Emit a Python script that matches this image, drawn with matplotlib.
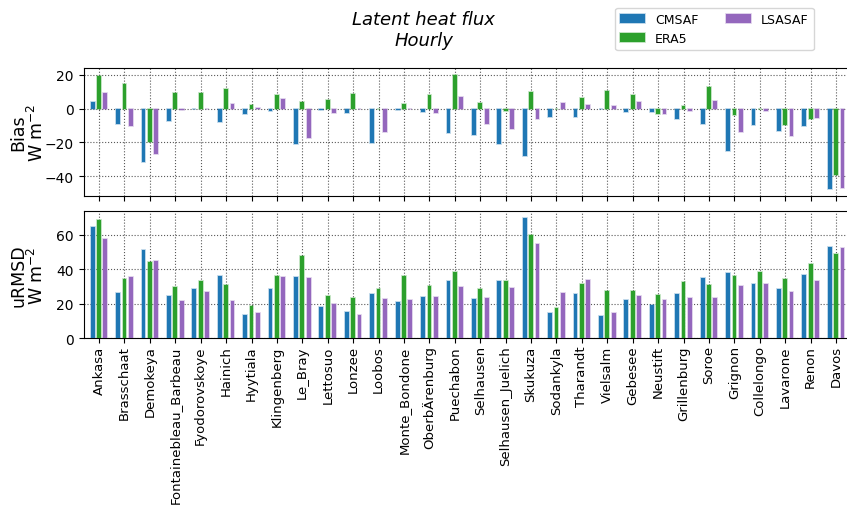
import matplotlib
matplotlib.use("Agg")
import matplotlib.pyplot as plt
from matplotlib.colors import to_rgba
import numpy as np

sites = ['Ankasa', 'Brasschaat', 'Demokeya', 'Fontainebleau_Barbeau', 'Fyodorovskoye',
         'Hainich', 'Hyytiala', 'Klingenberg', 'Le_Bray', 'Lettosuo', 'Lonzee', 'Loobos',
         'Monte_Bondone', 'OberbÄrenburg', 'Puechabon', 'Selhausen', 'Selhausen_Juelich',
         'Skukuza', 'Sodankyla', 'Tharandt', 'Vielsalm', 'Gebesee', 'Neustift',
         'Grillenburg', 'Soroe', 'Grignon', 'Collelongo', 'Lavarone', 'Renon', 'Davos']

# bias (W m-2)
bias_cmsaf = [3.8, -8.9, -31.7, -7.5, -0.3, -7.9, -3.2, -1.6, -21.0, -1.0, -2.8, -20.6,
              -1.0, -1.8, -14.1, -15.6, -21.0, -28.1, -4.8, -5.0, -0.3, -2.0, -2.0, -5.9,
              -9.3, -24.8, -9.7, -13.1, -10.3, -47.3]
bias_era5 = [19.2, 14.9, -19.6, 9.3, 9.3, 11.5, 2.4, 7.9, 4.2, 5.1, 8.9, -0.3,
             3.0, 8.3, 20.2, 3.4, -1.6, 9.9, -0.3, 6.5, 10.5, 8.3, -3.2, 1.6,
             12.7, -3.6, -0.3, -9.9, -6.3, -39.4]
bias_lsasaf = [9.3, -10.5, -27.1, -1.0, -0.3, 2.8, 0.3, 5.9, -17.6, -2.4, -0.3, -13.9,
               -0.3, -2.6, 7.1, -9.3, -11.9, -6.3, 3.6, 2.4, 1.8, 4.0, -3.4, -1.6,
               4.6, -13.7, -1.6, -16.4, -5.5, -46.7]

# unbiased RMSD (W m-2)
urmsd_cmsaf = [64.2, 26.5, 51.0, 24.4, 28.7, 36.2, 13.7, 28.7, 35.6, 18.3, 15.0, 25.8,
               21.0, 23.7, 33.3, 22.5, 33.1, 69.6, 14.8, 25.4, 12.7, 22.3, 19.4, 25.4,
               34.8, 37.7, 31.2, 28.3, 36.9, 52.9]
urmsd_era5 = [68.7, 34.2, 44.0, 29.4, 32.9, 31.0, 18.8, 35.8, 47.7, 24.6, 23.5, 28.3,
              36.0, 30.4, 38.1, 28.7, 33.3, 59.6, 17.5, 31.3, 27.5, 27.5, 25.0, 32.5,
              31.0, 36.2, 38.3, 34.2, 42.7, 48.5]
urmsd_lsasaf = [57.7, 35.2, 44.8, 21.3, 26.9, 21.3, 14.4, 35.4, 34.6, 20.0, 13.5, 22.9,
                22.3, 24.0, 29.4, 23.5, 29.2, 54.4, 26.5, 34.0, 14.6, 24.6, 22.3, 23.5,
                23.5, 30.4, 31.2, 26.7, 33.1, 52.5]

products = ['CMSAF', 'ERA5', 'LSASAF']
colors = ['tab:blue', 'tab:green', 'tab:purple']

fig = plt.figure(figsize=(8.47, 5.06), dpi=100)
ax1 = fig.add_axes([0.0986, 0.6113, 0.905, 0.253])
ax2 = fig.add_axes([0.0986, 0.3294, 0.905, 0.2522])

x = np.arange(len(sites))
w = 0.15
offs = [-0.25, 0, 0.25]

for ax, series in [(ax1, [bias_cmsaf, bias_era5, bias_lsasaf]),
                   (ax2, [urmsd_cmsaf, urmsd_era5, urmsd_lsasaf])]:
    for vals, c, o, lab in zip(series, colors, offs, products):
        ax.bar(x + o, vals, w, color=c, edgecolor=to_rgba(c, 0.35), linewidth=1.2,
               label=lab, zorder=3)
    ax.grid(True, color='0.35', linestyle=':', linewidth=0.8, zorder=0)
    ax.set_xlim(-0.61, 29.55)
    ax.set_xticks(x)
    ax.tick_params(axis='y', labelsize=10)
    ax.tick_params(axis='x', labelsize=9.5, pad=1.5)

ax1.set_ylim(-51.5, 24.3)
ax1.set_yticks([-40, -20, 0, 20])
ax1.set_xticklabels([])
ax1.set_ylabel('Bias\nW m$^{-2}$', fontsize=12.5, linespacing=1.0)
ax1.yaxis.set_label_coords(-0.047, 0.5)

ax2.set_ylim(0, 73.8)
ax2.set_yticks([0, 20, 40, 60])
ax2.set_xticklabels(sites, rotation=90)
ax2.set_ylabel('uRMSD\nW m$^{-2}$', fontsize=12.5, linespacing=1.0)
ax2.yaxis.set_label_coords(-0.047, 0.5)

fig.text(0.5, 0.978, 'Latent heat flux\nHourly', ha='center', va='top',
         fontsize=13, style='italic')
h, l = ax1.get_legend_handles_labels()
fig.legend(h, l, loc='upper right', bbox_to_anchor=(0.968, 0.995), ncol=2, fontsize=9,
           handlelength=2.0, columnspacing=2.2)

fig.savefig('out.png', dpi=100)
